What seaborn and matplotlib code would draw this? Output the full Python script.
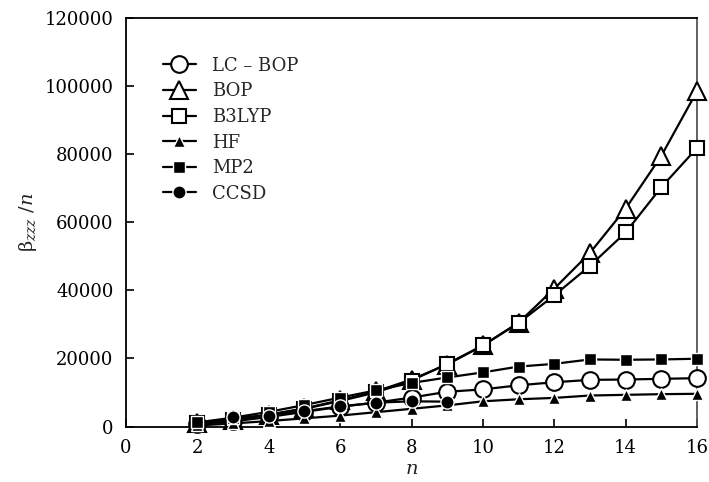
import matplotlib
matplotlib.use("Agg")
import matplotlib.pyplot as plt
import seaborn as sns
import pandas as pd

n_all = [2, 3, 4, 5, 6, 7, 8, 9, 10, 11, 12, 13, 14, 15, 16]
n_ccsd = [3, 4, 5, 6, 7, 8, 9]

lc_bop = [600, 1500, 2800, 4300, 5800, 7000, 8500, 10200, 10900, 12100, 13000, 13700, 13800, 14000, 14200]
bop = [1000, 2000, 3500, 5300, 7700, 10300, 13800, 18200, 23800, 30500, 40500, 51000, 64000, 79500, 98500]
b3lyp = [1000, 2000, 3400, 5200, 7500, 10000, 13500, 18400, 23800, 30400, 38500, 47200, 57000, 70300, 81800]
hf = [300, 900, 1600, 2400, 3200, 4200, 5200, 6200, 7400, 8000, 8400, 9100, 9300, 9500, 9600]
mp2 = [1200, 2600, 4300, 6300, 8500, 10600, 12800, 14400, 15900, 17600, 18400, 19700, 19600, 19700, 19900]
ccsd = [2800, 3100, 4500, 5900, 7000, 7400, 7300]

labels = ["LC – BOP", "BOP", "B3LYP", "HF", "MP2", "CCSD"]
yticks = [0, 20000, 40000, 60000, 80000, 100000, 120000]
xticks = [0, 2, 4, 6, 8, 10, 12, 14, 16]

sns.set_style("ticks")
plt.rcParams["font.family"] = ["DejaVu Serif"]
plt.rcParams["mathtext.fontset"] = "dejavuserif"

fig = plt.figure(figsize=(7.09, 4.82), dpi=100)
ax = fig.add_axes([126 / 709, 1 - 426.5 / 482, (697 - 126) / 709, (426.5 - 18) / 482])

series = [
    (labels[0], n_all, lc_bop, dict(marker="o", markersize=12, markerfacecolor="white",
                                     markeredgecolor="black", markeredgewidth=1.5)),
    (labels[1], n_all, bop, dict(marker="^", markersize=12.5, markerfacecolor="white",
                                  markeredgecolor="black", markeredgewidth=1.5)),
    (labels[2], n_all, b3lyp, dict(marker="s", markersize=10.5, markerfacecolor="white",
                                    markeredgecolor="black", markeredgewidth=1.5)),
    (labels[3], n_all, hf, dict(marker="^", markersize=8, markerfacecolor="black",
                                 markeredgecolor="white", markeredgewidth=1.0)),
    (labels[4], n_all, mp2, dict(marker="s", markersize=8, markerfacecolor="black",
                                  markeredgecolor="white", markeredgewidth=1.0)),
    (labels[5], n_ccsd, ccsd, dict(marker="o", markersize=9.5, markerfacecolor="black",
                                    markeredgecolor="white", markeredgewidth=1.0)),
]

for i, (lab, xs, ys, style) in enumerate(series):
    df = pd.DataFrame({"n": xs, "v": ys})
    sns.lineplot(data=df, x="n", y="v", ax=ax, color="black", linewidth=1.6,
                 label=lab, zorder=3 + i, clip_on=False, **style)

ax.set_xlim(0, 16)
ax.set_ylim(0, 120000)
ax.set_xticks(xticks)
ax.set_yticks(yticks)
ax.set_xticklabels([str(t) for t in xticks])
ax.set_yticklabels([str(t) for t in yticks])
ax.tick_params(axis="both", direction="in", length=6, width=1.2, labelsize=13,
               pad=9, colors="black", top=False, right=False)
for side in ["left", "bottom", "top"]:
    ax.spines[side].set_color("black")
    ax.spines[side].set_linewidth(1.3)
ax.spines["right"].set_color("#555555")
ax.spines["right"].set_linewidth(1.3)

ax.set_xlabel("$n$", fontsize=14, labelpad=2)
ax.set_ylabel("β$_{zzz}$ /$n$", fontsize=14, labelpad=4)

leg = ax.legend(loc="upper left", bbox_to_anchor=(0.065, 0.905), frameon=False,
                fontsize=13, handlelength=1.8, handletextpad=0.9, labelspacing=0.42,
                borderpad=0, borderaxespad=0)

fig.savefig("out.png", dpi=100)
